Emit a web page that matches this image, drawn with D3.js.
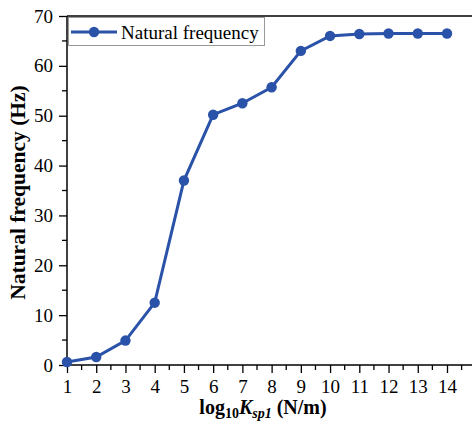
<!DOCTYPE html>
<html><head><meta charset="utf-8">
<script src="https://cdn.jsdelivr.net/npm/d3@7"></script>
<style>body{margin:0;background:#fff}svg{display:block}</style>
</head><body>
<svg id="c" width="472" height="426"></svg>
<script>
const xValues = [1,2,3,4,5,6,7,8,9,10,11,12,13,14];
const freq = [0.6,1.6,4.9,12.5,37.0,50.2,52.5,55.7,63.0,66.0,66.4,66.5,66.5,66.5];
const xTicks = [1,2,3,4,5,6,7,8,9,10,11,12,13,14];
const yTicks = [0,10,20,30,40,50,60,70];
const seriesName = "Natural frequency";

(function(){
const svg = d3.select("#c");
const W = 472, H = 426;
const pL = 67, pT = 16, pB = 365;
const x = d3.scaleLinear().domain([1,14]).range([67,447]);
const y = d3.scaleLinear().domain([0,70]).range([pB, pT]);
const col = "#2a52a8";
const font = "'Liberation Serif','Times New Roman',serif";

svg.append("line").attr("x1",pL).attr("x2",W).attr("y1",pT).attr("y2",pT)
  .attr("stroke","#000").attr("stroke-width",1.3);

const xAxis = d3.axisBottom(x).tickValues(xTicks).tickSize(8).tickPadding(7).tickFormat(d3.format("d"));
const gx = svg.append("g").attr("transform",`translate(0,${pB})`).call(xAxis);
gx.select(".domain").remove();
svg.append("line").attr("x1",pL).attr("x2",W).attr("y1",pB).attr("y2",pB)
  .attr("stroke","#000").attr("stroke-width",1.5);
const xMinor = d3.range(1.5, 14.9, 1);
svg.append("g").selectAll("line").data(xMinor).join("line")
  .attr("x1",d=>x(d)).attr("x2",d=>x(d)).attr("y1",pB).attr("y2",pB+5)
  .attr("stroke","#000").attr("stroke-width",1.3);

const yAxis = d3.axisLeft(y).tickValues(yTicks).tickSize(8).tickPadding(6);
const gy = svg.append("g").attr("transform",`translate(${pL},0)`).call(yAxis);
gy.select(".domain").remove();
svg.append("line").attr("x1",pL).attr("x2",pL).attr("y1",pT).attr("y2",pB)
  .attr("stroke","#000").attr("stroke-width",1.5);
const yMinor = d3.range(5, 70, 10);
svg.append("g").selectAll("line").data(yMinor).join("line")
  .attr("x1",pL-5).attr("x2",pL).attr("y1",d=>y(d)).attr("y2",d=>y(d))
  .attr("stroke","#000").attr("stroke-width",1.3);

[gx, gy].forEach(g=>{
  g.selectAll(".tick line").attr("stroke","#000").attr("stroke-width",1.3);
  g.selectAll(".tick text").attr("fill","#000").style("font-family",font).style("font-size","19px");
});

const data = xValues.map((v,i)=>({x:v,y:freq[i]}));
svg.append("path").datum(data)
  .attr("fill","none").attr("stroke",col).attr("stroke-width",3)
  .attr("d", d3.line().x(d=>x(d.x)).y(d=>y(d.y)));
svg.append("g").selectAll("circle").data(data).join("circle")
  .attr("cx",d=>x(d.x)).attr("cy",d=>y(d.y)).attr("r",5.2).attr("fill",col);

const lg = svg.append("g");
lg.append("rect").attr("x",68.5).attr("y",17.5).attr("width",196).attr("height",28)
  .attr("fill","#fff").attr("stroke","#999").attr("stroke-width",1);
lg.append("line").attr("x1",71).attr("x2",117).attr("y1",32).attr("y2",32)
  .attr("stroke",col).attr("stroke-width",3);
lg.append("circle").attr("cx",94).attr("cy",32).attr("r",5.2).attr("fill",col);
lg.append("text").attr("x",121).attr("y",38.5).text(seriesName)
  .style("font-family",font).style("font-size","19px").attr("fill","#000");

svg.append("text").attr("transform",`translate(25,${(pT+pB)/2 + 2}) rotate(-90)`)
  .attr("text-anchor","middle").style("font-family",font).style("font-size","21.5px")
  .style("font-weight","bold").text("Natural frequency (Hz)");

const xt = svg.append("text").attr("x",(67+447)/2 + 6).attr("y",414).attr("text-anchor","middle")
  .style("font-family",font).style("font-size","20px").style("font-weight","bold");
xt.append("tspan").text("log");
xt.append("tspan").text("10").attr("dy",4).style("font-size","14px");
xt.append("tspan").text("K").attr("dy",-4).style("font-style","italic");
xt.append("tspan").text("sp1").attr("dy",4).style("font-size","14px").style("font-style","italic");
xt.append("tspan").text(" (N/m)").attr("dy",-4);
})();
</script>
</body></html>
